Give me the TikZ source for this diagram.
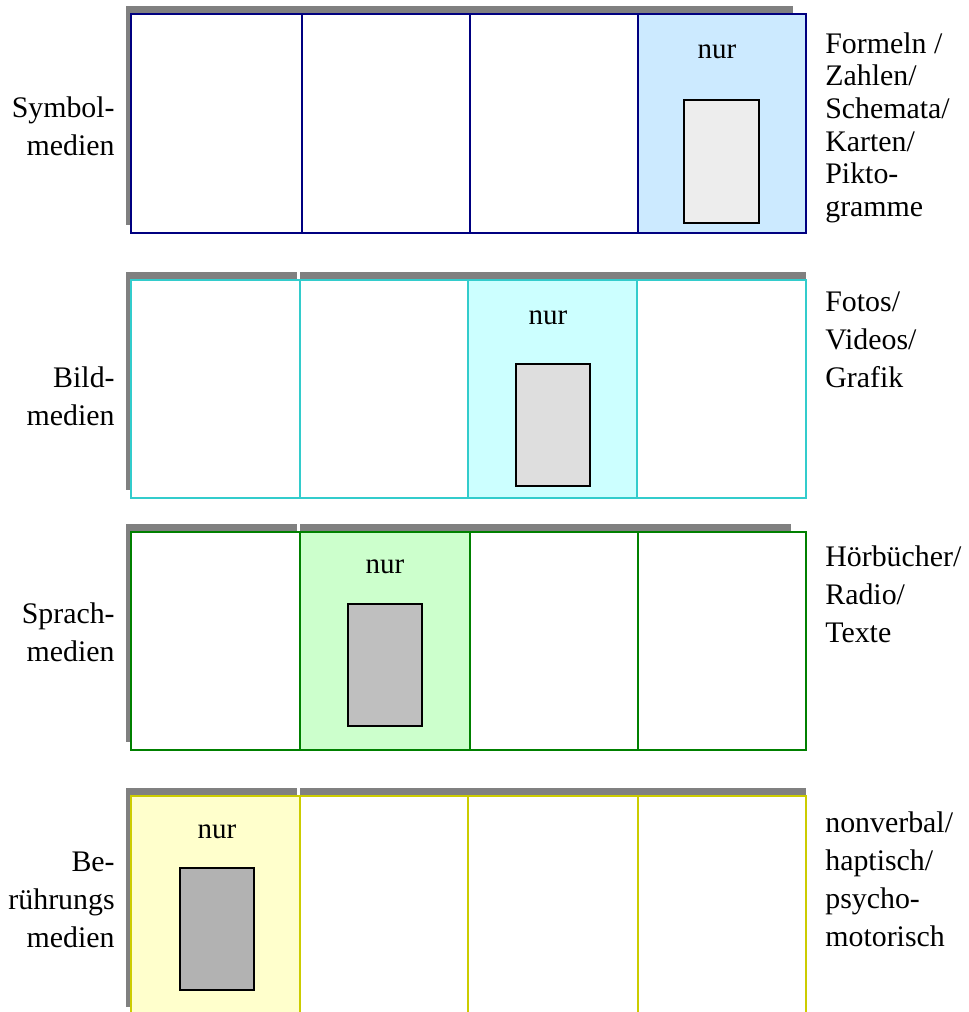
\documentclass[tikz,border=0pt]{standalone}
\usepackage{fontspec}
\setmainfont{Liberation Serif}
\newfontfamily\labelfont{Liberation Serif}
\usepackage{tikz}
\usetikzlibrary{positioning}

\definecolor{navyline}{RGB}{0,0,128}
\definecolor{cyanline}{RGB}{51,204,204}
\definecolor{greenline}{RGB}{0,128,0}
\definecolor{yellowline}{RGB}{204,204,0}
\definecolor{shadowgray}{RGB}{128,128,128}
\definecolor{bluefill}{RGB}{204,234,255}
\definecolor{cyanfill}{RGB}{204,255,255}
\definecolor{greenfill}{RGB}{204,255,204}
\definecolor{yellowfill}{RGB}{255,255,204}

\tikzset{
	shadowbar/.style={fill=shadowgray, draw=none},
	cellbox/.style={line width=1.1pt, fill=white},
	mediumbox/.style={draw=black, line width=0.9pt},
	nurlabel/.style={font=\labelfont\fontsize{16.5}{18}\selectfont, inner sep=0pt, anchor=base},
	leftlabel/.style={font=\labelfont\fontsize{17}{21.8}\selectfont, inner sep=0pt, align=right, anchor=east},
	rightlabel/.style={font=\labelfont\fontsize{17}{21.8}\selectfont, inner sep=0pt, align=left, anchor=north west}
}

\begin{document}
\begin{tikzpicture}[x=0.02cm, y=-0.02cm]
			%%%%% START %%%%%
			\useasboundingbox (0, 0) rectangle (969, 1012);
			
			% Symbolmedien
			\fill[shadowbar] (126, 6) rectangle (793, 225);
			\draw[cellbox, draw=navyline] (131, 14) rectangle (302, 233);
			\draw[cellbox, draw=navyline] (302, 14) rectangle (470, 233);
			\draw[cellbox, draw=navyline] (470, 14) rectangle (638, 233);
			\draw[cellbox, draw=navyline, fill=bluefill] (638, 14) rectangle (806, 233);
			\node[nurlabel] (nur1) at (717, 58) {nur};
			\draw[mediumbox, fill=black!7] (684, 100) rectangle (759, 223);
			\node[leftlabel] (sym) at (115, 126) {Symbol-\\medien};
			\node[rightlabel, font=\labelfont\fontsize{17}{18.6}\selectfont] (symtxt) at (825, 32) {Formeln /\\Zahlen/\\Schemata/\\Karten/\\Pikto-\\gramme};
			
			% Bildmedien
			\fill[shadowbar] (126, 272) rectangle (297, 490);
			\fill[shadowbar] (300, 272) rectangle (806, 490);
			\draw[cellbox, draw=cyanline] (131, 280) rectangle (300, 498);
			\draw[cellbox, draw=cyanline] (300, 280) rectangle (468, 498);
			\draw[cellbox, draw=cyanline, fill=cyanfill] (468, 280) rectangle (637, 498);
			\draw[cellbox, draw=cyanline] (637, 280) rectangle (806, 498);
			\node[nurlabel] (nur2) at (548, 324) {nur};
			\draw[mediumbox, fill=black!13] (516, 364) rectangle (590, 486);
			\node[leftlabel] (bild) at (115, 396) {Bild-\\medien};
			\node[rightlabel] (bildtxt) at (825, 291) {Fotos/\\Videos/\\Grafik};
			
			% Sprachmedien
			\fill[shadowbar] (126, 524) rectangle (297, 742);
			\fill[shadowbar] (300, 524) rectangle (791, 742);
			\draw[cellbox, draw=greenline] (131, 532) rectangle (300, 750);
			\draw[cellbox, draw=greenline, fill=greenfill] (300, 532) rectangle (470, 750);
			\draw[cellbox, draw=greenline] (470, 532) rectangle (638, 750);
			\draw[cellbox, draw=greenline] (638, 532) rectangle (806, 750);
			\node[nurlabel] (nur3) at (385, 573) {nur};
			\draw[mediumbox, fill=black!25] (348, 604) rectangle (422, 726);
			\node[leftlabel] (sprach) at (115, 632) {Sprach-\\medien};
			\node[rightlabel] (sprachtxt) at (825, 545) {Hörbücher/\\Radio/\\Texte};
			
			% Beruehrungsmedien
			\fill[shadowbar] (126, 788) rectangle (297, 1007);
			\fill[shadowbar] (300, 788) rectangle (806, 1007);
			\draw[cellbox, draw=yellowline, fill=yellowfill] (131, 796) rectangle (300, 1016);
			\draw[cellbox, draw=yellowline] (300, 796) rectangle (468, 1016);
			\draw[cellbox, draw=yellowline] (468, 796) rectangle (638, 1016);
			\draw[cellbox, draw=yellowline] (638, 796) rectangle (806, 1016);
			\node[nurlabel] (nur4) at (217, 838) {nur};
			\draw[mediumbox, fill=black!30] (180, 868) rectangle (254, 990);
			\node[leftlabel] (beruehr) at (115, 900) {Be-\\rührungs\\medien};
			\node[rightlabel] (beruehrtxt) at (825, 811) {nonverbal/\\haptisch/\\psycho-\\motorisch};
			
			%%%%% END %%%%%
		\end{tikzpicture}
\end{document}
